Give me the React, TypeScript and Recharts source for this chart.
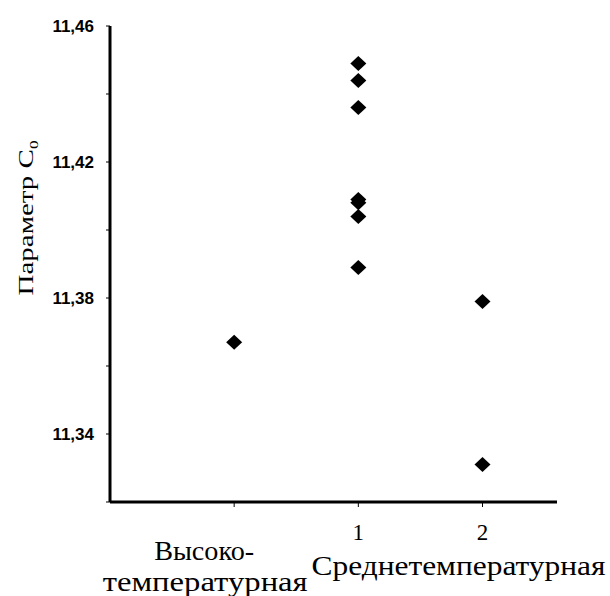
import { Scatter, ScatterChart, XAxis, YAxis } from "recharts";

const xTicks = [1, 2, 3];
const xTickLabels = ["", "1", "2"];
const yTicks = [11.32, 11.34, 11.36, 11.38, 11.4, 11.42, 11.44, 11.46];
const yLabeledTicks = [11.34, 11.38, 11.42, 11.46];

const highTempValues = [11.367];
const mid1Values = [11.449, 11.444, 11.436, 11.409, 11.408, 11.404, 11.389];
const mid2Values = [11.379, 11.331];

const toPoints = (x: number, values: number[]) => values.map((y) => ({ x, y }));

const serif = "'Liberation Serif', 'Times New Roman', serif";

function Diamond(props: any) {
  const { cx, cy } = props;
  if (cx == null || cy == null) return null;
  return <path d={`M${cx},${cy - 7.5} L${cx + 8},${cy} L${cx},${cy + 7.5} L${cx - 8},${cy} Z`} fill="#000" />;
}

function XTick(props: any) {
  const { x, y, payload } = props;
  const i = xTicks.indexOf(payload.value);
  return (
    <g fontFamily={serif} fill="#000">
      {xTickLabels[i] && (
        <text x={x} y={y + 31} textAnchor="middle" fontSize={23}>
          {xTickLabels[i]}
        </text>
      )}
      {payload.value === 1 && (
        <>
          <text x={x - 30} y={y + 51} textAnchor="middle" fontSize={27} textLength={100} lengthAdjust="spacingAndGlyphs">
            Высоко-
          </text>
          <text x={x - 29} y={y + 82} textAnchor="middle" fontSize={27} textLength={205} lengthAdjust="spacingAndGlyphs">
            температурная
          </text>
        </>
      )}
      {payload.value === 3 && (
        <text x={x - 24} y={y + 66} textAnchor="middle" fontSize={27} textLength={294} lengthAdjust="spacingAndGlyphs">
          Среднетемпературная
        </text>
      )}
    </g>
  );
}

function YTick(props: any) {
  const { x, y, payload } = props;
  const show = yLabeledTicks.some((v) => Math.abs(v - payload.value) < 1e-6);
  if (!show) return null;
  return (
    <text x={x} y={y + 6} textAnchor="end" fontFamily="'Liberation Sans', Arial, sans-serif" fontWeight="bold" fontSize={17} fill="#000">
      {payload.value.toFixed(2).replace(".", ",")}
    </text>
  );
}

function YLabel() {
  return (
    <text
      transform="translate(33,218) rotate(-90)"
      textAnchor="middle"
      fontFamily={serif}
      fontSize={22}
      fill="#000"
      textLength={155}
      lengthAdjust="spacingAndGlyphs"
    >
      Параметр С
      <tspan fontSize={13} dy={5}>
        0
      </tspan>
    </text>
  );
}

export default function App() {
  return (
    <div style={{ position: "absolute", left: 0, top: 0, background: "#fff" }}>
      <ScatterChart width={610} height={596} margin={{ top: 26, right: 53, bottom: 0, left: 0 }}>
        <XAxis
          type="number"
          dataKey="x"
          domain={[0, 3.6]}
          ticks={xTicks}
          tick={<XTick />}
          tickSize={5}
          axisLine={{ stroke: "#000", strokeWidth: 3 }}
          tickLine={{ stroke: "#000" }}
          height={94}
          allowDataOverflow
        />
        <YAxis
          type="number"
          dataKey="y"
          domain={[11.32, 11.46]}
          ticks={yTicks}
          tick={<YTick />}
          tickSize={4}
          tickMargin={12}
          axisLine={{ stroke: "#000", strokeWidth: 3 }}
          tickLine={{ stroke: "#000" }}
          width={110}
          interval={0}
          allowDataOverflow
          label={<YLabel />}
        />
        <Scatter data={toPoints(1, highTempValues)} shape={<Diamond />} isAnimationActive={false} />
        <Scatter data={toPoints(2, mid1Values)} shape={<Diamond />} isAnimationActive={false} />
        <Scatter data={toPoints(3, mid2Values)} shape={<Diamond />} isAnimationActive={false} />
      </ScatterChart>
    </div>
  );
}
